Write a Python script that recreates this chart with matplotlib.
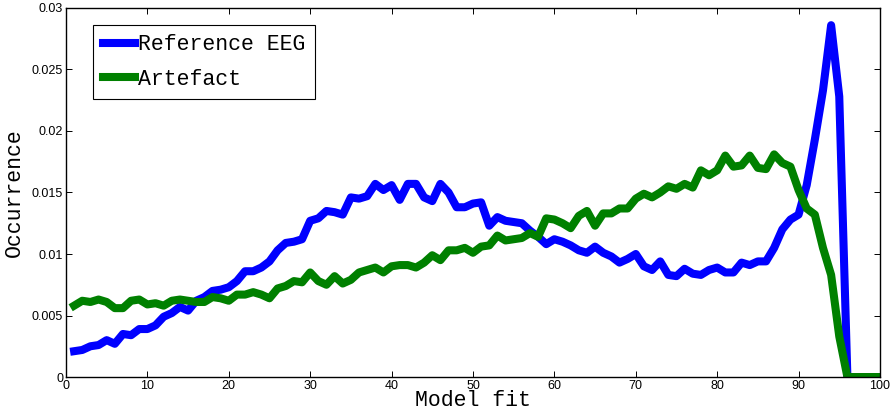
import numpy as np
import matplotlib
matplotlib.use("Agg")
import matplotlib.pyplot as plt

# model-fit bins 1..100
model_fit = np.arange(1, 101)

reference_eeg = [
    0.0021, 0.0022, 0.0025, 0.0026, 0.0030, 0.0027, 0.0035, 0.0034, 0.0039, 0.0039,
    0.0042, 0.0049, 0.0052, 0.0057, 0.0054, 0.0062, 0.0065, 0.0070, 0.0071, 0.0073,
    0.0078, 0.0086, 0.0086, 0.0089, 0.0094, 0.0103, 0.0109, 0.0110, 0.0112, 0.0127,
    0.0129, 0.0135, 0.0134, 0.0132, 0.0146, 0.0145, 0.0147, 0.0157, 0.0152, 0.0156,
    0.0144, 0.0157, 0.0157, 0.0146, 0.0143, 0.0157, 0.0150, 0.0138, 0.0138, 0.0141,
    0.0142, 0.0123, 0.0130, 0.0127, 0.0126, 0.0125, 0.0119, 0.0114, 0.0108, 0.0112,
    0.0110, 0.0107, 0.0103, 0.0101, 0.0106, 0.0101, 0.0098, 0.0093, 0.0096, 0.0100,
    0.0090, 0.0087, 0.0094, 0.0083, 0.0082, 0.0088, 0.0084, 0.0083, 0.0087, 0.0089,
    0.0085, 0.0085, 0.0093, 0.0091, 0.0094, 0.0094, 0.0105, 0.0120, 0.0128, 0.0132,
    0.0156, 0.0193, 0.0233, 0.0286, 0.0228, 0.0, 0.0, 0.0, 0.0, 0.0,
]

artefact = [
    0.0058, 0.0062, 0.0061, 0.0063, 0.0061, 0.0056, 0.0056, 0.0062, 0.0063, 0.0059,
    0.0060, 0.0058, 0.0062, 0.0063, 0.0062, 0.0061, 0.0061, 0.0065, 0.0064, 0.0062,
    0.0067, 0.0067, 0.0069, 0.0067, 0.0064, 0.0072, 0.0074, 0.0078, 0.0077, 0.0085,
    0.0078, 0.0075, 0.0082, 0.0076, 0.0079, 0.0085, 0.0087, 0.0089, 0.0085, 0.0090,
    0.0091, 0.0091, 0.0089, 0.0093, 0.0099, 0.0095, 0.0103, 0.0103, 0.0105, 0.0101,
    0.0106, 0.0107, 0.0115, 0.0111, 0.0112, 0.0113, 0.0117, 0.0114, 0.0129, 0.0128,
    0.0125, 0.0121, 0.0131, 0.0135, 0.0123, 0.0133, 0.0133, 0.0137, 0.0137, 0.0145,
    0.0149, 0.0146, 0.0150, 0.0155, 0.0153, 0.0157, 0.0154, 0.0168, 0.0164, 0.0168,
    0.0180, 0.0171, 0.0172, 0.0180, 0.0170, 0.0169, 0.0181, 0.0174, 0.0171, 0.0152,
    0.0137, 0.0132, 0.0105, 0.0083, 0.0033, 0.0, 0.0, 0.0, 0.0, 0.0,
]

xticks = np.arange(0, 101, 10)
yticks = [0, 0.005, 0.01, 0.015, 0.02, 0.025, 0.03]
ytick_labels = ["0", "0.005", "0.01", "0.015", "0.02", "0.025", "0.03"]


def main():
    fig = plt.figure(figsize=(8.94, 4.18), dpi=100)
    ax = fig.add_axes([0.0738, 0.098, 0.9105, 0.883])

    ax.plot(model_fit, reference_eeg, color=(0, 0, 1), lw=5.8, label="Reference EEG")
    ax.plot(model_fit, artefact, color=(0, 0.5, 0), lw=5.8, label="Artefact")

    ax.set_xlim(0, 100)
    ax.set_ylim(0, 0.03)
    ax.set_xticks(xticks)
    ax.set_yticks(yticks)
    ax.set_yticklabels(ytick_labels)
    ax.tick_params(direction="in", top=True, right=True, length=4.5, width=0.7,
                   labelsize=9, pad=2)
    for lab in ax.get_xticklabels() + ax.get_yticklabels():
        lab.set_family("Liberation Sans")
    for sp in ax.spines.values():
        sp.set_linewidth(1.0)

    ax.set_xlabel("Model fit", family="Liberation Mono", fontsize=15.5, labelpad=-1)
    ax.set_ylabel("Occurrence", family="Liberation Mono", fontsize=15.5, labelpad=5)

    leg = ax.legend(loc="upper left", bbox_to_anchor=(0.033, 0.955),
                    prop={"family": "Liberation Mono", "size": 15.5},
                    fancybox=False, edgecolor="black", framealpha=1,
                    handlelength=1.5, handletextpad=0.15, borderpad=0.45,
                    labelspacing=0.62, borderaxespad=0)
    leg.get_frame().set_linewidth(0.8)

    fig.savefig("out.png", dpi=100)


if __name__ == "__main__":
    main()
